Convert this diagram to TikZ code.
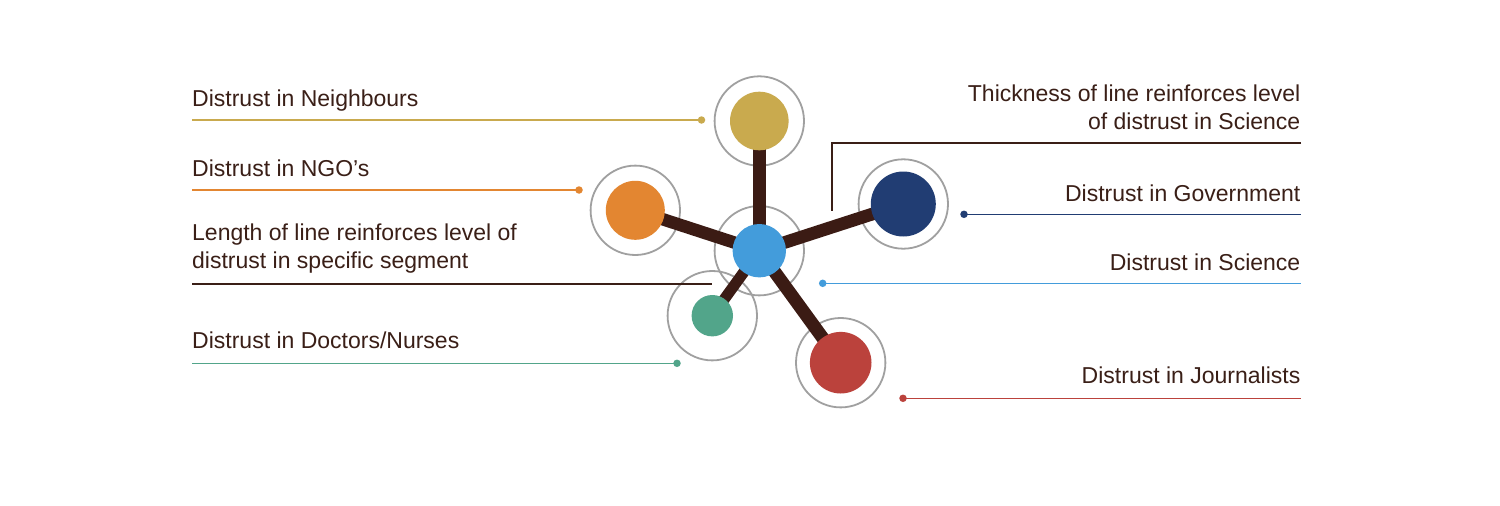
\documentclass[tikz,border=0pt]{standalone}
\usepackage{fontspec}
\setmainfont{Liberation Sans}
\definecolor{txtbrown}{HTML}{3A1F17}
\definecolor{spoke}{HTML}{3B1B14}
\definecolor{ringgrey}{HTML}{A0A0A0}
\definecolor{cyellow}{HTML}{C9AA4E}
\definecolor{corange}{HTML}{E38631}
\definecolor{cnavy}{HTML}{213D73}
\definecolor{cblue}{HTML}{439CDB}
\definecolor{cgreen}{HTML}{52A58A}
\definecolor{cred}{HTML}{BB423C}
\begin{document}
\begin{tikzpicture}[x=1pt,y=-1pt,
  ring/.style={draw=ringgrey,line width=1.8pt,circle,minimum size=89.4pt,inner sep=0pt},
  hub/.style={circle,inner sep=0pt},
  spokeline/.style={draw=spoke},
  lbl/.style={inner sep=0pt,text=txtbrown,font=\fontsize{23}{27}\selectfont},
  leader/.style={line width=1.6pt},
  dotend/.style={circle,inner sep=0pt,minimum size=7.5pt}]
\useasboundingbox[fill=white] (0,0) rectangle (1500,506);
% rings
\node[ring] (rC) at (759.3,250.7) {};
\node[ring] (rY) at (759.3,121) {};
\node[ring] (rO) at (635.3,210.3) {};
\node[ring] (rN) at (903.3,204) {};
\node[ring] (rG) at (712.3,315.7) {};
\node[ring] (rR) at (840.7,362.7) {};
% spokes
\draw[spokeline,line width=12.7pt] (rC.center) -- (rY.center);
\draw[spokeline,line width=12.5pt] (rC.center) -- (rO.center);
\draw[spokeline,line width=12.7pt] (rC.center) -- (rN.center);
\draw[spokeline,line width=11pt] (rC.center) -- (rG.center);
\draw[spokeline,line width=13pt] (rC.center) -- (rR.center);
% filled circles
\node[hub,fill=cyellow,minimum size=58.6pt] (cY) at (rY.center) {};
\node[hub,fill=corange,minimum size=59pt] (cO) at (rO.center) {};
\node[hub,fill=cnavy,minimum size=65pt] (cN) at (rN.center) {};
\node[hub,fill=cgreen,minimum size=41.4pt] (cG) at (rG.center) {};
\node[hub,fill=cred,minimum size=61.6pt] (cR) at (rR.center) {};
\node[hub,fill=cblue,minimum size=53.4pt] (cC) at (rC.center) {};
% left labels
\node[lbl,anchor=base west] (tNei) at (192,106) {Distrust in Neighbours};
\coordinate (lNeiA) at (192,120);
\node[dotend,fill=cyellow] (dNei) at (701.5,120) {};
\draw[leader,draw=cyellow] (lNeiA) -- (dNei.center);

\node[lbl,anchor=base west] (tNGO) at (192,176) {Distrust in NGO’s};
\coordinate (lNGOA) at (192,190);
\node[dotend,fill=corange] (dNGO) at (579,190) {};
\draw[leader,draw=corange] (lNGOA) -- (dNGO.center);

\node[lbl,anchor=base west] (tLen1) at (192,240.7) {Length of line reinforces level of};
\node[lbl,anchor=base west] (tLen2) at (192,268.3) {distrust in specific segment};
\coordinate (lLenA) at (192,284);
\coordinate (lLenB) at (712,284);
\draw[leader,draw=txtbrown] (lLenA) -- (lLenB);

\node[lbl,anchor=base west] (tDoc) at (192,348.7) {Distrust in Doctors/Nurses};
\coordinate (lDocA) at (192,363.3);
\node[dotend,fill=cgreen] (dDoc) at (677,363.3) {};
\draw[leader,draw=cgreen] (lDocA) -- (dDoc.center);

% right labels
\node[lbl,anchor=base east] (tThk1) at (1300.5,101) {Thickness of line reinforces level};
\node[lbl,anchor=base east] (tThk2) at (1300.5,129) {of distrust in Science};
\coordinate (lThkA) at (1301,142.7);
\coordinate (lThkB) at (832,142.7);
\coordinate (lThkC) at (832,210.7);
\draw[leader,draw=txtbrown] (lThkA) -- (lThkB) -- (lThkC);

\node[lbl,anchor=base east] (tGov) at (1300.5,201) {Distrust in Government};
\node[dotend,fill=cnavy] (dGov) at (964,214.3) {};
\coordinate (lGovB) at (1301,214.3);
\draw[leader,draw=cnavy] (dGov.center) -- (lGovB);

\node[lbl,anchor=base east] (tSci) at (1300.5,270) {Distrust in Science};
\node[dotend,fill=cblue] (dSci) at (822.7,283.3) {};
\coordinate (lSciB) at (1301,283.3);
\draw[leader,draw=cblue] (dSci.center) -- (lSciB);

\node[lbl,anchor=base east] (tJou) at (1300.5,383.3) {Distrust in Journalists};
\node[dotend,fill=cred] (dJou) at (903,398.3) {};
\coordinate (lJouB) at (1301,398.3);
\draw[leader,draw=cred] (dJou.center) -- (lJouB);
\end{tikzpicture}
\end{document}
